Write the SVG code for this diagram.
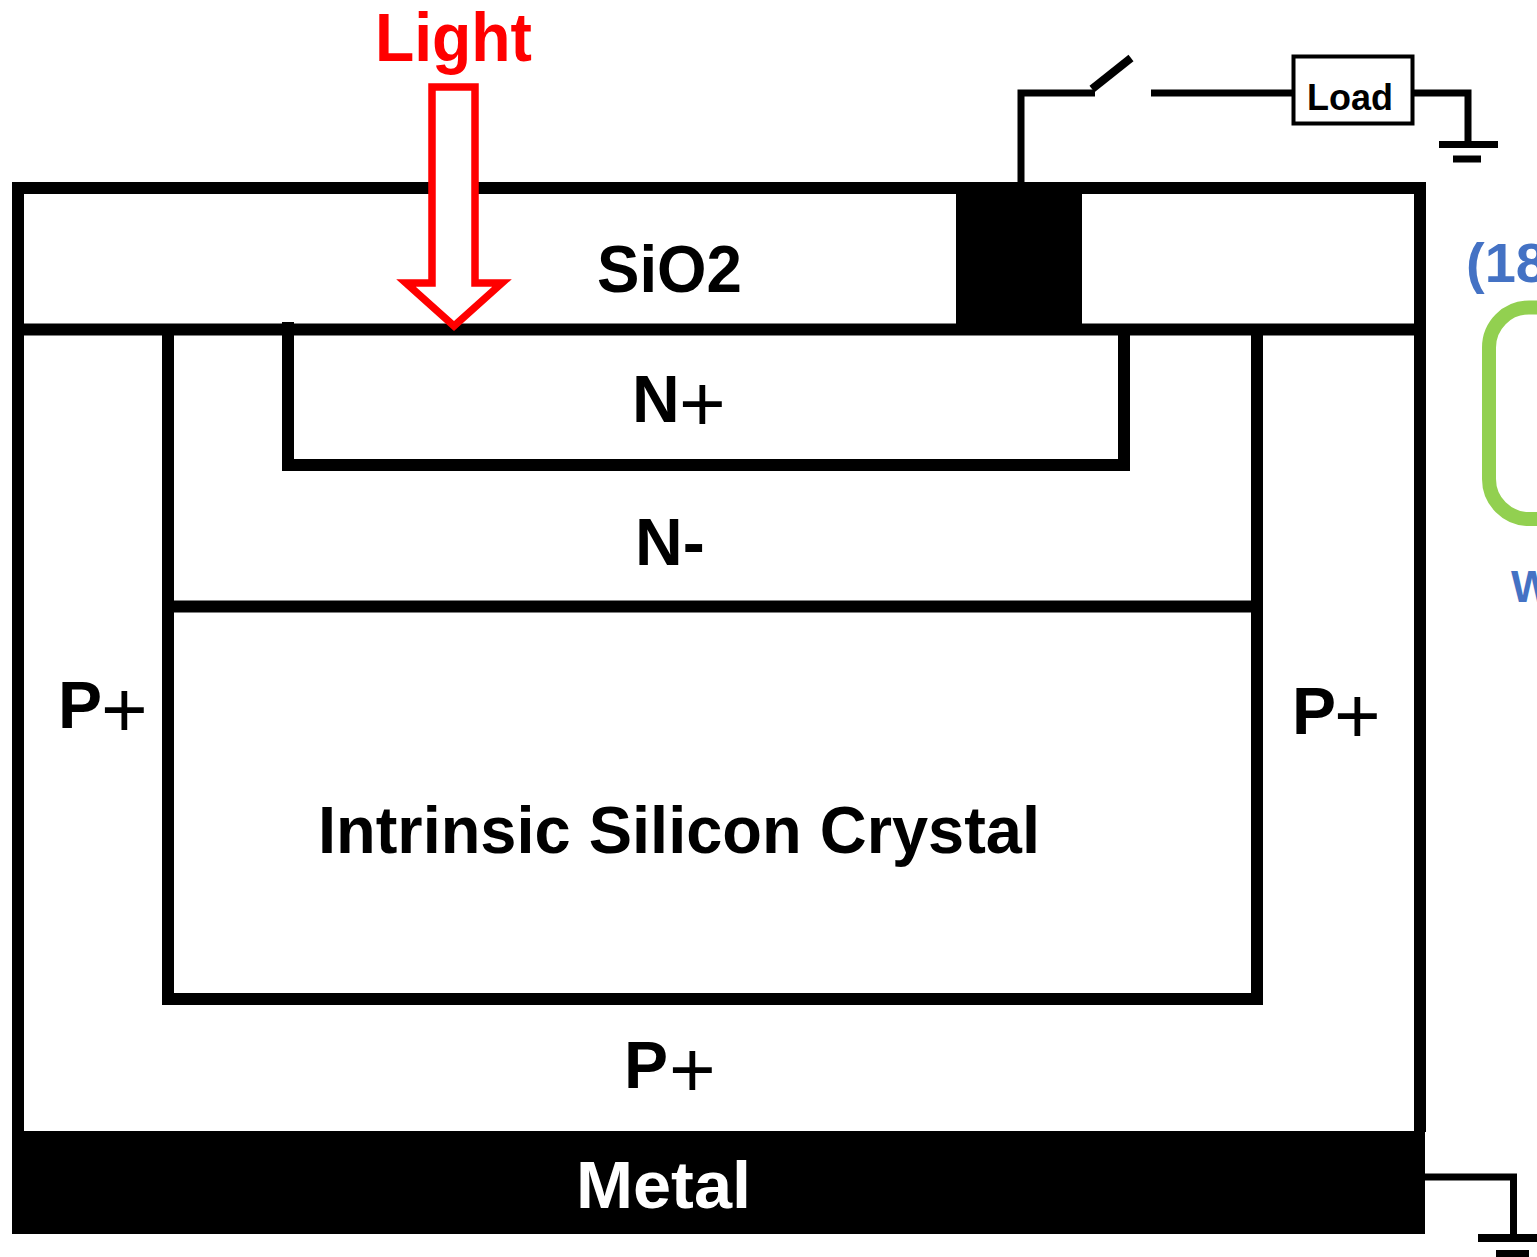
<svg xmlns="http://www.w3.org/2000/svg" width="1537" height="1257" viewBox="0 0 1537 1257">
<style>
.ln{stroke:#000;stroke-width:12;fill:none;stroke-linecap:butt}
.w{stroke:#000;stroke-width:7;fill:none}
.t{font-family:"Liberation Sans",Arial,sans-serif;font-weight:bold;font-size:66px;fill:#000}
.pl{font-family:"Liberation Sans",Arial,sans-serif;font-weight:normal;font-size:80px}
.blue{font-family:"Liberation Sans",Arial,sans-serif;font-weight:bold;fill:#4472C4}
</style>
<rect width="1537" height="1257" fill="#fff"/>

<g id="device">
  <line class="ln" x1="18" y1="182" x2="18" y2="1132"/>
  <line class="ln" x1="1420" y1="182" x2="1420" y2="1132"/>
  <line class="ln" x1="12" y1="188" x2="1426" y2="188"/>
  <line class="ln" x1="12" y1="329.5" x2="1426" y2="329.5"/>
</g>

<g id="contact">
  <rect x="956" y="182" width="126" height="153" fill="#000"/>
</g>

<g id="n-plus">
  <polyline class="ln" points="288,322 288,465 1124,465 1124,335"/>
</g>

<g id="p-well">
  <polyline class="ln" points="168,335 168,999 1257,999 1257,335"/>
  <line class="ln" x1="168" y1="606.5" x2="1257" y2="606.5"/>
</g>

<g id="metal">
  <rect x="12" y="1131" width="1413" height="103" fill="#000"/>
</g>

<g id="labels">
  <text class="t" x="597" y="292" textLength="145" lengthAdjust="spacingAndGlyphs">SiO2</text>
  <text class="t" x="632" y="422">N<tspan class="pl" x="679" y="431">+</tspan></text>
  <text class="t" x="635" y="565">N-</text>
  <text class="t" x="58" y="728">P<tspan class="pl" x="101" y="737">+</tspan></text>
  <text class="t" x="1292" y="734">P<tspan class="pl" x="1334" y="743">+</tspan></text>
  <text class="t" x="624" y="1088">P<tspan class="pl" x="669" y="1097">+</tspan></text>
  <text class="t" x="318" y="853" font-size="65" textLength="722" lengthAdjust="spacingAndGlyphs">Intrinsic Silicon Crystal</text>
  <text class="t" x="576" y="1208" style="fill:#fff" textLength="175" lengthAdjust="spacingAndGlyphs">Metal</text>
</g>

<g id="load">
  <rect x="1293.5" y="56.5" width="119" height="67" fill="#fff" stroke="#000" stroke-width="4"/>
  <text class="t" x="1307" y="110" style="font-size:37px" textLength="86" lengthAdjust="spacingAndGlyphs">Load</text>
</g>

<g id="switch">
  <line x1="1092" y1="89" x2="1131" y2="58" stroke="#000" stroke-width="8"/>
</g>

<g id="ground-top">
  <line x1="1439" y1="144.5" x2="1498" y2="144.5" stroke="#000" stroke-width="7"/>
  <line x1="1453" y1="159" x2="1481" y2="159" stroke="#000" stroke-width="7"/>
</g>

<g id="ground-bottom">
  <line x1="1478" y1="1238" x2="1537" y2="1238" stroke="#000" stroke-width="8"/>
  <line x1="1496" y1="1254" x2="1529" y2="1254" stroke="#000" stroke-width="8"/>
</g>

<g id="connectors">
  <polyline class="w" points="1021,182 1021,93 1095,93"/>
  <line class="w" x1="1151" y1="93" x2="1293" y2="93"/>
  <polyline class="w" points="1414,93 1468,93 1468,141"/>
  <polyline class="w" points="1425,1177 1513.5,1177 1513.5,1234"/>
</g>

<g id="light">
  <polygon points="432,87 475,87 475,283 502,283 454,326 406,283 432,283" fill="#fff" stroke="#f00" stroke-width="7.5" stroke-linejoin="miter"/>
  <text class="t" x="375" y="61" style="font-size:68px;fill:#f00" textLength="157" lengthAdjust="spacingAndGlyphs">Light</text>
</g>

<g id="side-note">
  <text class="blue" x="1466" y="282" font-size="56">(18</text>
  <rect x="1489" y="307.5" width="200" height="211.5" rx="40" fill="none" stroke="#92D050" stroke-width="14"/>
  <text class="blue" x="1511" y="602" font-size="44">W</text>
</g>
</svg>
